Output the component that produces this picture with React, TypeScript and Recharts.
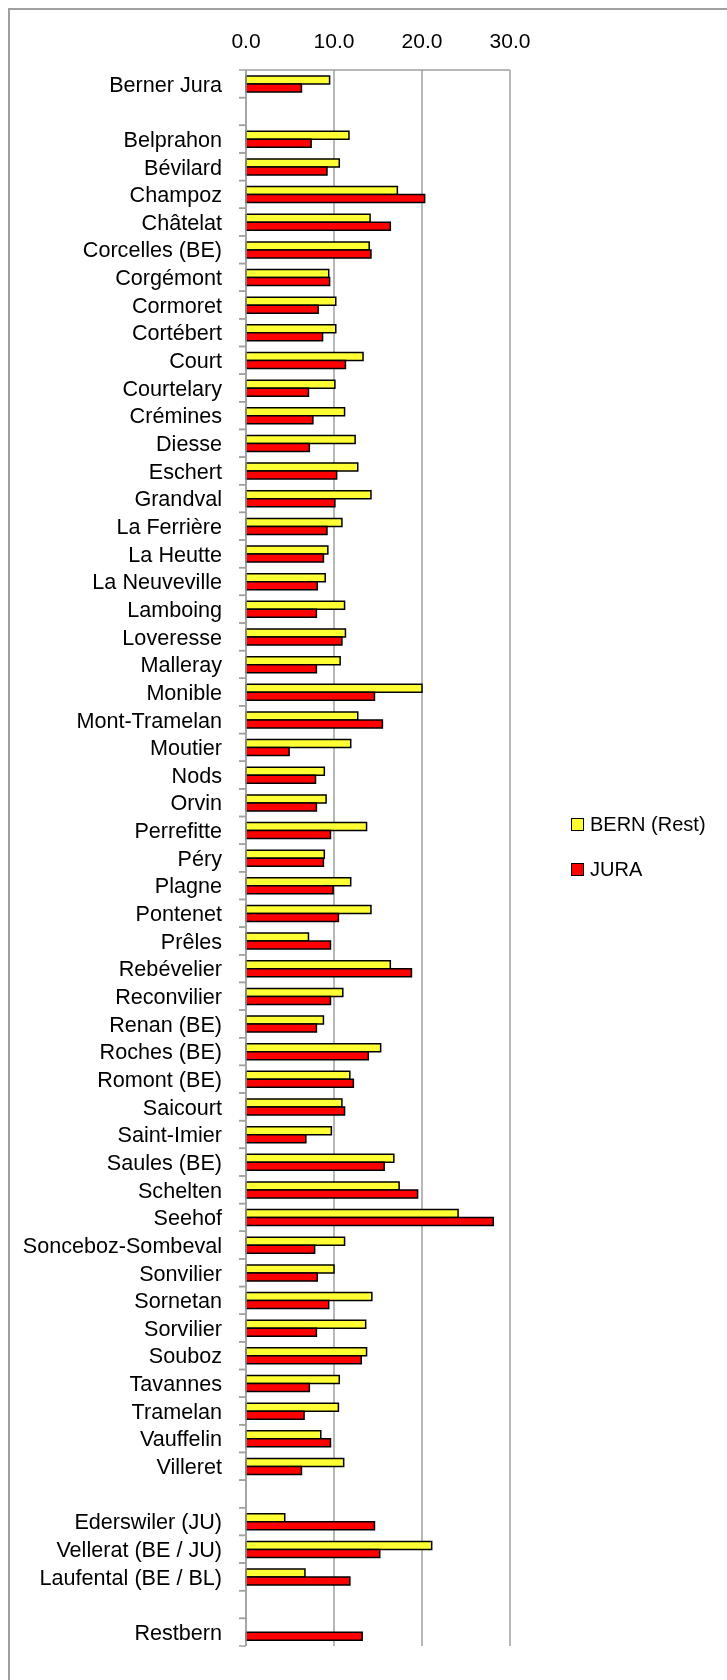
import { BarChart, Bar, XAxis, YAxis, CartesianGrid, Legend } from "recharts";

const gemeinden = [
  "Berner Jura", "", "Belprahon", "Bévilard", "Champoz", "Châtelat", "Corcelles (BE)",
  "Corgémont", "Cormoret", "Cortébert", "Court", "Courtelary", "Crémines", "Diesse",
  "Eschert", "Grandval", "La Ferrière", "La Heutte", "La Neuveville", "Lamboing",
  "Loveresse", "Malleray", "Monible", "Mont-Tramelan", "Moutier", "Nods", "Orvin",
  "Perrefitte", "Péry", "Plagne", "Pontenet", "Prêles", "Rebévelier", "Reconvilier",
  "Renan (BE)", "Roches (BE)", "Romont (BE)", "Saicourt", "Saint-Imier", "Saules (BE)",
  "Schelten", "Seehof", "Sonceboz-Sombeval", "Sonvilier", "Sornetan", "Sorvilier",
  "Souboz", "Tavannes", "Tramelan", "Vauffelin", "Villeret", " ", "Ederswiler (JU)",
  "Vellerat (BE / JU)", "Laufental (BE / BL)", "  ", "Restbern",
];

const bernRest = [
  9.5, null, 11.7, 10.6, 17.2, 14.1, 14.0,
  9.4, 10.2, 10.2, 13.3, 10.1, 11.2, 12.4,
  12.7, 14.2, 10.9, 9.3, 9.0, 11.2,
  11.3, 10.7, 20.0, 12.7, 11.9, 8.9, 9.1,
  13.7, 8.9, 11.9, 14.2, 7.1, 16.4, 11.0,
  8.8, 15.3, 11.8, 10.9, 9.7, 16.8,
  17.4, 24.1, 11.2, 10.0, 14.3, 13.6,
  13.7, 10.6, 10.5, 8.5, 11.1, null, 4.4,
  21.1, 6.7, null, null,
];

const jura = [
  6.3, null, 7.4, 9.2, 20.3, 16.4, 14.2,
  9.5, 8.2, 8.7, 11.3, 7.1, 7.6, 7.2,
  10.3, 10.1, 9.2, 8.8, 8.1, 8.0,
  10.9, 8.0, 14.6, 15.5, 4.9, 7.9, 8.0,
  9.6, 8.8, 9.9, 10.5, 9.6, 18.8, 9.6,
  8.0, 13.9, 12.2, 11.2, 6.8, 15.7,
  19.5, 28.1, 7.8, 8.1, 9.4, 8.0,
  13.1, 7.2, 6.6, 9.6, 6.3, null, 14.6,
  15.2, 11.8, null, 13.2,
];

const xTicks = [0, 10, 20, 30];

const data = gemeinden.map((name, i) => ({
  name,
  bern: bernRest[i],
  jura: jura[i],
}));

const FONT = "'Liberation Sans', Arial, sans-serif";
const GRID = "#a0a0a0";
const TICK_MARGIN = 24;

// category label plus Excel-style tick marks on the band edges
const CatTick = ({ x, y, payload }: any) => {
  const half = payload.offset || 0;
  const ax = x + TICK_MARGIN;
  return (
    <g>
      <line x1={ax - 7} x2={ax} y1={y - half} y2={y - half} stroke={GRID} strokeWidth={1.5} />
      <line x1={ax - 7} x2={ax} y1={y + half} y2={y + half} stroke={GRID} strokeWidth={1.5} />
      <text x={x} y={y} dy="0.36em" textAnchor="end" fontSize={21.6} fill="#000" fontFamily={FONT}>
        {payload.value}
      </text>
    </g>
  );
};

const LegendBox = ({ payload }: any) => (
  <div style={{ fontFamily: FONT, fontSize: 20, color: "#000" }}>
    {(payload || []).map((p: any) => (
      <div key={p.value} style={{ display: "flex", alignItems: "center", height: 45 }}>
        <span style={{
          display: "inline-block", width: 11, height: 11, background: p.color,
          border: "1.5px solid #000", marginRight: 6,
        }} />
        <span>{p.value}</span>
      </div>
    ))}
  </div>
);

export default function App() {
  return (
    <div style={{
      position: "fixed", top: 8, left: 8, width: 719, height: 1672, boxSizing: "border-box",
      borderTop: `2px solid ${GRID}`, borderLeft: `2px solid ${GRID}`, fontFamily: FONT,
    }}>
      <BarChart
        width={717}
        height={1662}
        data={data}
        layout="vertical"
        barSize={8}
        barGap={0}
        margin={{ top: 0, right: 217, bottom: 26, left: 0 }}
      >
        <CartesianGrid horizontal={false} stroke={GRID} strokeWidth={1.5} />
        <XAxis
          type="number"
          orientation="top"
          domain={[0, 30]}
          ticks={xTicks}
          tickFormatter={(v: number) => v.toFixed(1)}
          height={60}
          tickLine={false}
          tickSize={6}
          tickMargin={16}
          axisLine={{ stroke: GRID, strokeWidth: 1.5 }}
          tick={{ fontSize: 21, fill: "#000" }}
        />
        <YAxis
          type="category"
          dataKey="name"
          width={236}
          interval={0}
          tickLine={false}
          tickSize={0}
          tickMargin={TICK_MARGIN}
          axisLine={{ stroke: GRID, strokeWidth: 1.5 }}
          tick={<CatTick />}
        />
        <Legend
          layout="vertical"
          align="center"
          verticalAlign="middle"
          wrapperStyle={{ left: 561, top: 792, width: 150 }}
          content={<LegendBox />}
        />
        <Bar dataKey="bern" name="BERN (Rest)" fill="#ffff33" stroke="#000" strokeWidth={1.5} isAnimationActive={false} />
        <Bar dataKey="jura" name="JURA" fill="#ff0000" stroke="#000" strokeWidth={1.5} isAnimationActive={false} />
      </BarChart>
    </div>
  );
}
